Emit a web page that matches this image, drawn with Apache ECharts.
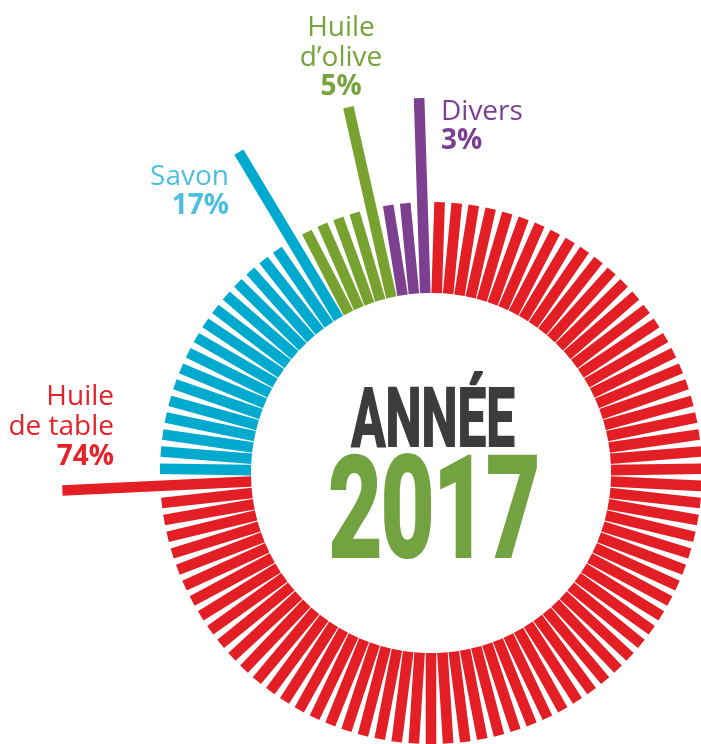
<!DOCTYPE html>
<html>
<head>
<meta charset="utf-8">
<title>Année 2017</title>
<script src="https://cdn.jsdelivr.net/npm/echarts@6.0.0/dist/echarts.min.js"></script>
<style>
  html, body { margin: 0; padding: 0; background: #fff; }
  #chart { width: 701px; height: 744px; }
</style>
</head>
<body>
<div id="chart"></div>
<script>
// catégories et parts (1 barre = 1 %)
var categories = ['Huile de table', 'Savon', 'Huile d\u2019olive', 'Divers'];
var shares = [74, 17, 5, 3];
// rayon de la barre longue de chaque catégorie
var peakRadius = [369, 374, 375, 375];
var barColors = ['#e31e24', '#00a9ce', '#78a22f', '#7d3f8f'];
var labelColors = ['#e4222a', '#4cbfe0', '#76a33a', '#7b3f92'];

// anneau
var ringInner = 180;
var ringOuter = 271;
var halfWidth = 5.3;

// une barre par pourcent : [fin, index, début, catégorie]
var segments = [];
var angleCats = [];
var k = 0;
shares.forEach(function (n, c) {
    for (var j = 0; j < n; j++) {
        var end = (j === n - 1) ? peakRadius[c] : ringOuter;
        segments.push([end, k, ringInner, c]);
        angleCats.push(String(k));
        k++;
    }
});

// texte des étiquettes
function label(lines, x, ys, align, color) {
    return lines.map(function (t, i) {
        var last = i === lines.length - 1;
        return {
            type: 'text',
            x: x,
            y: ys[i],
            style: {
                text: t,
                fill: color,
                font: (last ? 'bold ' : '') + '28px "Open Sans"',
                textAlign: align,
                textVerticalAlign: 'middle'
            }
        };
    });
}

var graphics = []
    .concat(label(['Huile', 'de table', shares[0] + '%'], 114, [397, 427, 457], 'right', labelColors[0]))
    .concat(label(['Savon', shares[1] + '%'], 229, [177, 206], 'right', labelColors[1]))
    .concat(label(['Huile', 'd\u2019olive', shares[2] + '%'], 341, [28, 58, 87], 'center', labelColors[2]))
    .concat(label(['Divers', shares[3] + '%'], 441, [112, 141], 'left', labelColors[3]));

// titre central (police condensée par scaleX, contour pour épaissir)
graphics.push({
    type: 'text',
    x: 433,
    y: 426,
    scaleX: 0.63,
    style: {
        text: 'ANNÉE',
        fill: '#3c3c3c',
        stroke: '#3c3c3c',
        lineWidth: 2,
        font: 'bold 81px Roboto',
        textAlign: 'center',
        textVerticalAlign: 'middle'
    }
});
graphics.push({
    type: 'text',
    x: 434,
    y: 521,
    scaleX: 0.66,
    style: {
        text: '2017',
        fill: '#73a240',
        stroke: '#73a240',
        lineWidth: 4,
        font: 'bold 139px Roboto',
        textAlign: 'center',
        textVerticalAlign: 'middle'
    }
});

var myChart = echarts.init(document.getElementById('chart'));

myChart.setOption({
    animation: false,
    backgroundColor: '#fff',
    polar: {
        center: [431, 473],
        radius: 375
    },
    angleAxis: {
        type: 'category',
        data: angleCats,
        startAngle: 90,
        clockwise: true,
        show: false
    },
    radiusAxis: {
        type: 'value',
        min: 0,
        max: 375,
        show: false
    },
    series: [
        {
            type: 'custom',
            coordinateSystem: 'polar',
            clip: false,
            encode: { radius: 0, angle: 1 },
            data: segments,
            renderItem: function (params, api) {
                var idx = api.value(1);
                var a = api.coord([api.value(2), idx]);
                var b = api.coord([api.value(0), idx]);
                var dx = b[0] - a[0], dy = b[1] - a[1];
                var len = Math.sqrt(dx * dx + dy * dy);
                var nx = -dy / len * halfWidth, ny = dx / len * halfWidth;
                return {
                    type: 'polygon',
                    shape: {
                        points: [
                            [a[0] + nx, a[1] + ny],
                            [b[0] + nx, b[1] + ny],
                            [b[0] - nx, b[1] - ny],
                            [a[0] - nx, a[1] - ny]
                        ]
                    },
                    style: { fill: barColors[api.value(3)] }
                };
            }
        }
    ],
    graphic: graphics
});
</script>
</body>
</html>
